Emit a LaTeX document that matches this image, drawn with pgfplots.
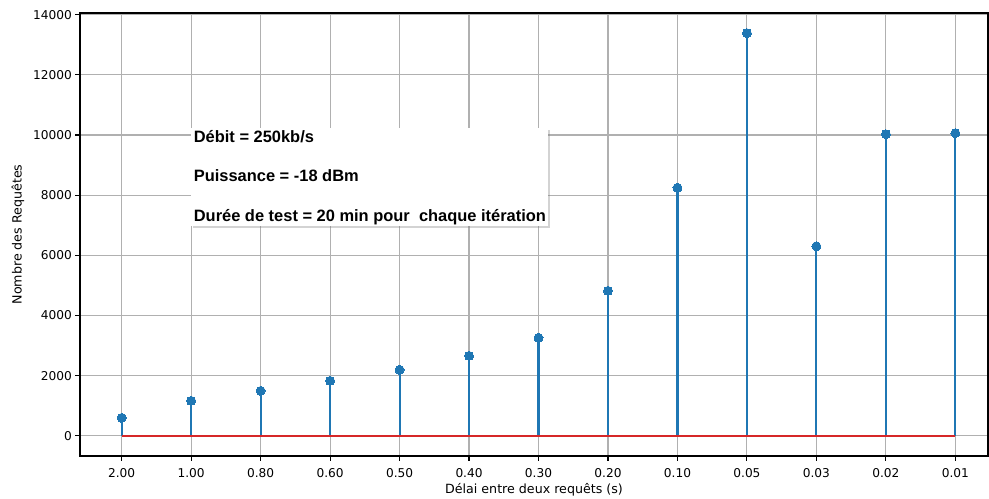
\documentclass[border=0pt]{standalone}
\usepackage{fontspec}
\setmainfont{DejaVu Sans}
\newfontfamily\arialb{Liberation Sans}
\usepackage{pgfplots}
\pgfplotsset{compat=1.18}
\usetikzlibrary{shadows}
\definecolor{c0}{HTML}{1F77B4}
\definecolor{c3}{HTML}{D62728}
\definecolor{gridc}{HTML}{B0B0B0}
\newcommand\tkfont{\fontsize{12.2}{14}\selectfont}
\newcommand\lbfont{\fontsize{12.7}{15}\selectfont}
\begin{document}
\begin{tikzpicture}
\path[use as bounding box] (-80bp,-43bp) rectangle (909bp,456bp);
\begin{axis}[at={(0,0)}, anchor=south west, scale only axis, width=908bp, height=443bp,
 xmin=-0.6, xmax=12.47, ymin=-669, ymax=14054,
 xtick={0,...,12},
 xticklabels={2.00,1.00,0.80,0.60,0.50,0.40,0.30,0.20,0.10,0.05,0.03,0.02,0.01},
 ytick={0,2000,...,14000},
 scaled y ticks=false,
 /pgf/number format/fixed,
 /pgf/number format/1000 sep={},
 /pgf/number format/assume math mode=true,
 tick pos=left,
 grid=major, major grid style={gridc, line width=1.1bp},
 tick style={black, line width=1.1bp}, tick align=outside, major tick length=4.6bp,
 axis line style={line width=1.1bp},
 xticklabel style={font=\tkfont, yshift=-4bp},
 yticklabel style={font=\tkfont},
 xlabel={Délai entre deux requêts (s)},
 ylabel={Nombre des Requêtes},
 every axis x label/.style={at={(axis description cs:0.5,-0.0767)}, anchor=center, font=\lbfont},
 every axis y label/.style={at={(axis description cs:-0.0683,0.5)}, anchor=center, rotate=90, font=\lbfont},
]
\addplot[ycomb, c0, line width=2.08bp, mark=*, mark size=4.5bp, mark options={fill=c0, draw=c0, line width=0pt}] coordinates {
(0,599) (1,1165) (2,1497) (3,1830) (4,2195) (5,2660) (6,3259) (7,4822) (8,8247) (9,13385) (10,6302) (11,10027) (12,10060)};
\addplot[c3, line width=2.08bp, no marks] coordinates {(0,0) (12,0)};
\node[anchor=north west, fill=white, drop shadow={shadow xshift=2bp, shadow yshift=-2bp, opacity=0.35}, inner xsep=2.5bp, inner ysep=2bp, align=left, font=\arialb\bfseries\fontsize{16.5}{39.5}\selectfont] at (axis cs:1,10230) {Débit = 250kb/s\\Puissance = -18 dBm\\Durée de test = 20 min pour\ \ chaque itération};
\end{axis}
\end{tikzpicture}
\end{document}
